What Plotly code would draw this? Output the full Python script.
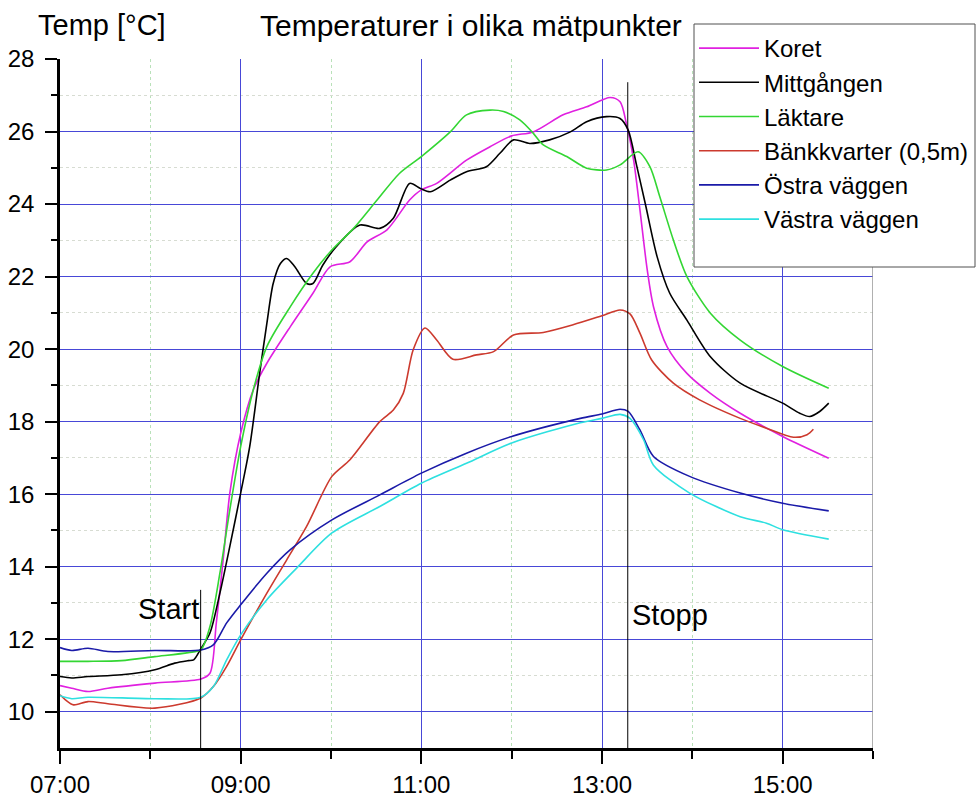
import plotly.graph_objects as go

# ---- data (time in hours, temperature in °C) ----
koret_t = [7.0, 7.13, 7.31, 7.53, 8.05, 8.56, 8.66, 8.73, 8.81, 8.88, 9.0, 9.14, 9.29, 9.55, 9.80, 9.99,
           10.21, 10.40, 10.62, 10.87, 11.0, 11.17, 11.50, 11.76, 12.0, 12.24, 12.57, 12.83, 13.09, 13.2,
           13.27, 13.35, 13.42, 13.50, 13.57, 13.72, 13.94, 14.20, 14.53, 15.0, 15.51]
koret_v = [10.72, 10.65, 10.56, 10.65, 10.79, 10.90, 11.06, 12.44, 14.28, 16.03, 17.68, 18.88, 19.61, 20.62, 21.54, 22.27,
           22.41, 22.96, 23.29, 24.11, 24.39, 24.57, 25.21, 25.58, 25.88, 25.99, 26.46, 26.68, 26.94, 26.82,
           26.22, 25.21, 23.84, 22.2, 21.17, 20.07, 19.33, 18.78, 18.23, 17.59, 16.99]

mitt_t = [7.0, 7.13, 7.31, 7.68, 8.05, 8.27, 8.42, 8.48, 8.56, 8.66, 8.77, 8.88, 9.0, 9.10, 9.21, 9.29, 9.36,
          9.44, 9.51, 9.60, 9.73, 9.80, 9.91, 10.06, 10.32, 10.54, 10.69, 10.87, 10.99, 11.10, 11.32, 11.50,
          11.72, 11.87, 12.02, 12.20, 12.42, 12.65, 12.83, 13.05, 13.2, 13.29, 13.38, 13.48, 13.61, 13.75,
          13.94, 14.20, 14.53, 15.0, 15.19, 15.30, 15.41, 15.51]
mitt_v = [10.97, 10.93, 10.97, 11.02, 11.16, 11.34, 11.41, 11.43, 11.74, 12.17, 13.27, 14.56, 16.03, 17.31, 19.33, 20.71, 21.81,
          22.36, 22.50, 22.27, 21.81, 21.81, 22.32, 22.83, 23.42, 23.33, 23.61, 24.57, 24.43, 24.34, 24.66, 24.89,
          25.03, 25.40, 25.77, 25.67, 25.77, 25.99, 26.27, 26.41, 26.36, 26.04, 25.1, 24.0, 22.55, 21.54,
          20.80, 19.79, 19.06, 18.51, 18.23, 18.14, 18.28, 18.51]

lakt_t = [7.0, 7.31, 7.68, 8.05, 8.42, 8.56, 8.66, 8.77, 8.88, 9.0, 9.14, 9.29, 9.55, 9.80, 9.99, 10.25, 10.51,
          10.76, 11.0, 11.32, 11.50, 11.76, 11.91, 12.09, 12.24, 12.35, 12.61, 12.83, 13.05, 13.2, 13.40,
          13.53, 13.64, 13.79, 13.94, 14.20, 14.53, 15.0, 15.51]
lakt_v = [11.39, 11.39, 11.41, 11.52, 11.63, 11.71, 12.35, 13.82, 15.57, 17.31, 18.88, 20.07, 21.17, 22.09, 22.68, 23.33, 24.11,
          24.85, 25.31, 25.99, 26.46, 26.59, 26.55, 26.32, 25.95, 25.63, 25.31, 24.99, 24.94, 25.08, 25.44,
          25.03, 24.20, 23.01, 22.0, 20.99, 20.25, 19.52, 18.92]

bank_t = [7.0, 7.06, 7.15, 7.31, 7.53, 8.05, 8.56, 8.70, 8.845, 9.0, 9.29, 9.51, 9.73, 10.01, 10.21, 10.54,
          10.69, 10.80, 10.91, 11.04, 11.17, 11.35, 11.61, 11.80, 12.02, 12.35, 12.68, 13.0, 13.2, 13.31,
          13.42, 13.55, 13.79, 14.08, 14.53, 14.82, 15.12, 15.27, 15.34]
bank_v = [10.47, 10.33, 10.19, 10.28, 10.22, 10.10, 10.38, 10.70, 11.25, 11.98, 13.27, 14.19, 15.11, 16.49, 16.95, 18.0,
          18.32, 18.78, 19.98, 20.58, 20.25, 19.72, 19.84, 19.93, 20.39, 20.46, 20.67, 20.92, 21.08, 20.97,
          20.44, 19.7, 19.06, 18.60, 18.09, 17.82, 17.57, 17.64, 17.79]

ostra_t = [7.0, 7.13, 7.31, 7.53, 8.05, 8.56, 8.70, 8.845, 9.0, 9.29, 9.55, 10.01, 10.54, 11.0, 11.50, 12.0,
           12.76, 13.0, 13.2, 13.29, 13.42, 13.57, 13.97, 14.53, 15.0, 15.51]
ostra_v = [11.77, 11.69, 11.75, 11.66, 11.69, 11.70, 11.85, 12.45, 12.95, 13.82, 14.47, 15.29, 15.98, 16.58, 17.13, 17.59,
           18.09, 18.21, 18.34, 18.28, 17.77, 17.04, 16.49, 16.03, 15.75, 15.54]

vastra_t = [7.0, 7.13, 7.31, 8.05, 8.56, 8.70, 8.845, 9.0, 9.29, 9.62, 10.01, 10.54, 11.0, 11.50, 12.0, 12.76,
            13.0, 13.2, 13.31, 13.46, 13.57, 13.97, 14.53, 14.82, 15.0, 15.51]
vastra_v = [10.44, 10.36, 10.40, 10.36, 10.40, 10.70, 11.43, 12.12, 13.09, 13.96, 14.93, 15.66, 16.30, 16.85, 17.41, 17.97,
            18.09, 18.20, 18.09, 17.5, 16.80, 16.03, 15.38, 15.20, 15.02, 14.76]

series_names = ["Koret", "Mittgången", "Läktare", "Bänkkvarter (0,5m)", "Östra väggen", "Västra väggen"]
series_colors = ["#e020e0", "#000000", "#33d633", "#cc3a2e", "#1a1aa8", "#2ee0e0"]
series_t = [koret_t, mitt_t, lakt_t, bank_t, ostra_t, vastra_t]
series_v = [koret_v, mitt_v, lakt_v, bank_v, ostra_v, vastra_v]

x_tickvals = [7, 9, 11, 13, 15]
x_ticktext = ["07:00", "09:00", "11:00", "13:00", "15:00"]
x_minor = [8, 10, 12, 14, 16]
y_tickvals = [10, 12, 14, 16, 18, 20, 22, 24, 26, 28]
y_minor = [11, 13, 15, 17, 19, 21, 23, 25, 27]

start_time = 8.557
start_top = 13.36
stop_time = 13.285
stop_top = 27.36

FONT = "Liberation Sans, Arial, sans-serif"
GRID = "rgb(72,72,215)"

W, H = 977, 801
ml, mr, mt, mb = 60, 104, 59, 53
pw, ph = W - ml - mr, H - mt - mb


def px_x(p):
    return (p - ml) / pw


def px_y(p):
    return (H - mb - p) / ph


fig = go.Figure()
for name, col, t, v in zip(series_names, series_colors, series_t, series_v):
    fig.add_trace(go.Scatter(x=t, y=v, mode="lines", name=name,
                             line=dict(color=col, width=1.6, shape="spline", smoothing=0.8)))

fig.add_shape(type="line", xref="x", yref="y", x0=start_time, x1=start_time, y0=9, y1=start_top,
              line=dict(color="black", width=1))
fig.add_shape(type="line", xref="x", yref="y", x0=stop_time, x1=stop_time, y0=9, y1=stop_top,
              line=dict(color="black", width=1))
fig.add_shape(type="line", xref="x", yref="y", x0=16, x1=16, y0=9, y1=28,
              line=dict(color="rgb(150,150,150)", width=1.5))
# legend frame
fig.add_shape(type="rect", xref="paper", yref="paper", x0=px_x(694), x1=px_x(975), y0=px_y(267), y1=px_y(24),
              fillcolor="white", line=dict(color="rgb(80,80,80)", width=1), layer="above")

fig.add_annotation(x=start_time, y=12.84, xref="x", yref="y", text="Start", showarrow=False,
                   xanchor="right", yanchor="middle", font=dict(size=29, color="black", family=FONT))
fig.add_annotation(x=stop_time, y=12.67, xref="x", yref="y", text="Stopp", showarrow=False,
                   xanchor="left", yanchor="middle", xshift=2, font=dict(size=29, color="black", family=FONT))

fig.add_annotation(x=px_x(36), y=px_y(25), xref="paper", yref="paper", text="Temp [°C]", showarrow=False,
                   xanchor="left", yanchor="middle", font=dict(size=29, color="black", family=FONT))
fig.add_annotation(x=px_x(258), y=px_y(25), xref="paper", yref="paper", text="Temperaturer i olika mätpunkter",
                   showarrow=False, xanchor="left", yanchor="middle",
                   font=dict(size=30, color="black", family=FONT))

fig.update_layout(
    width=W, height=H,
    margin=dict(l=ml, r=mr, t=mt, b=mb, pad=0, autoexpand=False),
    plot_bgcolor="white", paper_bgcolor="white",
    font=dict(family=FONT, size=24, color="black"),
    showlegend=True,
    legend=dict(x=px_x(694), y=px_y(26), xanchor="left", yanchor="top",
                bgcolor="rgba(0,0,0,0)", borderwidth=0,
                font=dict(size=24, family=FONT, color="black"), itemwidth=60,
                tracegroupgap=0),
    xaxis=dict(range=[7, 16], tickmode="array", tickvals=x_tickvals, ticktext=x_ticktext,
               automargin=False,
               showline=True, linecolor="black", linewidth=2.5,
               ticks="outside", ticklen=13, tickwidth=2, tickcolor="black",
               showgrid=True, gridcolor=GRID, gridwidth=1, zeroline=False,
               tickfont=dict(size=24, family=FONT), ticklabelstandoff=0,
               minor=dict(tickvals=x_minor, ticks="outside", ticklen=8, tickwidth=2, tickcolor="black",
                          showgrid=True, gridcolor="rgb(185,225,185)", griddash="dot", gridwidth=1)),
    yaxis=dict(range=[9, 28], tickmode="array", tickvals=y_tickvals,
               automargin=False,
               showline=True, linecolor="black", linewidth=2.5,
               ticks="outside", ticklen=12, tickwidth=2, tickcolor="black",
               showgrid=True, gridcolor=GRID, gridwidth=1, zeroline=False,
               tickfont=dict(size=24, family=FONT), ticklabelstandoff=6,
               minor=dict(tickvals=y_minor, ticks="outside", ticklen=6, tickwidth=2, tickcolor="black",
                          showgrid=True, gridcolor="rgb(215,220,210)", griddash="dot", gridwidth=1)),
)

fig.write_html("out.html")
